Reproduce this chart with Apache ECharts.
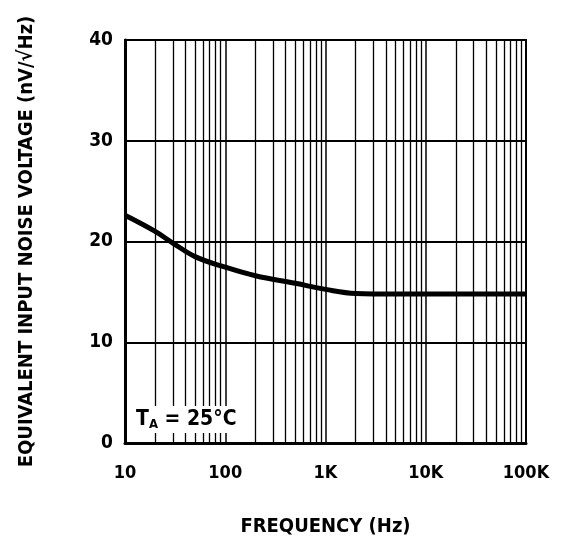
<!DOCTYPE html>
<html>
<head>
<meta charset="utf-8">
<script src="https://cdn.jsdelivr.net/npm/echarts@6/dist/echarts.min.js"></script>
<style>
  html, body { margin: 0; padding: 0; background: #fff; }
  #chart { width: 571px; height: 540px; }
</style>
</head>
<body>
<div id="chart"></div>
<script>
// curve (Hz, nV/rtHz)
var freq = [10, 20, 30, 50, 100, 200, 500, 1000, 2000, 5000, 10000, 100000];
var noise = [22.6, 21.0, 19.85, 18.5, 17.45, 16.6, 15.85, 15.25, 14.85, 14.8, 14.8, 14.8];

// log grid lines between decades
var gridFreq = [];
[10, 100, 1000, 10000].forEach(function (d) {
    for (var k = 2; k <= 9; k++) gridFreq.push(k * d);
});

var xLabels = {10: '10', 100: '100', 1000: '1K', 10000: '10K', 100000: '100K'};

var font = '"DejaVu Sans Condensed", "DejaVu Sans", sans-serif';

var domx = document.getElementById('chart');
var myChart = echarts.init(domx);

option = {
    animation: false,
    grid: {
        left: 125, right: 45, top: 40, bottom: 97,
        outerBoundsMode: 'none',
        show: true, borderColor: '#000', borderWidth: 2
    },
    xAxis: {
        type: 'log',
        logBase: 10,
        min: 10,
        max: 100000,
        name: 'FREQUENCY (Hz)',
        nameLocation: 'middle',
        nameGap: 74,
        nameTextStyle: {color: '#000', fontSize: 20, fontWeight: 'bold', fontFamily: font},
        axisLine: {lineStyle: {color: '#000', width: 3}},
        axisTick: {show: false},
        axisLabel: {
            color: '#000', fontSize: 18, fontWeight: 'bold', fontFamily: font, margin: 21,
            formatter: function (v) { return xLabels[v] || ''; }
        },
        splitLine: {show: true, lineStyle: {color: '#000', width: 1.5}}
    },
    yAxis: {
        type: 'value',
        min: 0,
        max: 40,
        interval: 10,
        name: 'EQUIVALENT INPUT NOISE VOLTAGE (nV/\u221AHz)',
        nameLocation: 'middle',
        nameRotate: 90,
        nameGap: 88,
        nameTextStyle: {color: '#000', fontSize: 20, fontWeight: 'bold', fontFamily: font},
        axisLine: {show: true, lineStyle: {color: '#000', width: 3}},
        axisTick: {show: false},
        axisLabel: {color: '#000', fontSize: 19, fontWeight: 'bold', fontFamily: font, margin: 12},
        splitLine: {show: true, lineStyle: {color: '#000', width: 2}}
    },
    series: [
        {
            type: 'line',
            data: [],
            silent: true,
            markLine: {
                silent: true,
                symbol: 'none',
                label: {show: false},
                lineStyle: {color: '#000', width: 1.3, type: 'solid'},
                data: gridFreq.map(function (f) { return {xAxis: f}; })
            }
        },
        {
            type: 'line',
            data: freq.map(function (f, i) { return [f, noise[i]]; }),
            smooth: 0.4,
            showSymbol: false,
            lineStyle: {color: '#000', width: 5},
            z: 5
        }
    ],
    graphic: [{
        type: 'text',
        left: 132,
        top: 406,
        z: 10,
        style: {
            text: '{t|T}{s|A}{t| = 25\u00B0C}',
            backgroundColor: '#fff',
            padding: [2, 4, 2, 4],
            rich: {
                t: {fontSize: 21, fontWeight: 'bold', fontFamily: font, fill: '#000'},
                s: {fontSize: 13, fontWeight: 'bold', fontFamily: font, fill: '#000', verticalAlign: 'bottom', padding: [10, 0, 0, 0]}
            }
        }
    }]
};
myChart.setOption(option, true);
</script>
</body>
</html>
